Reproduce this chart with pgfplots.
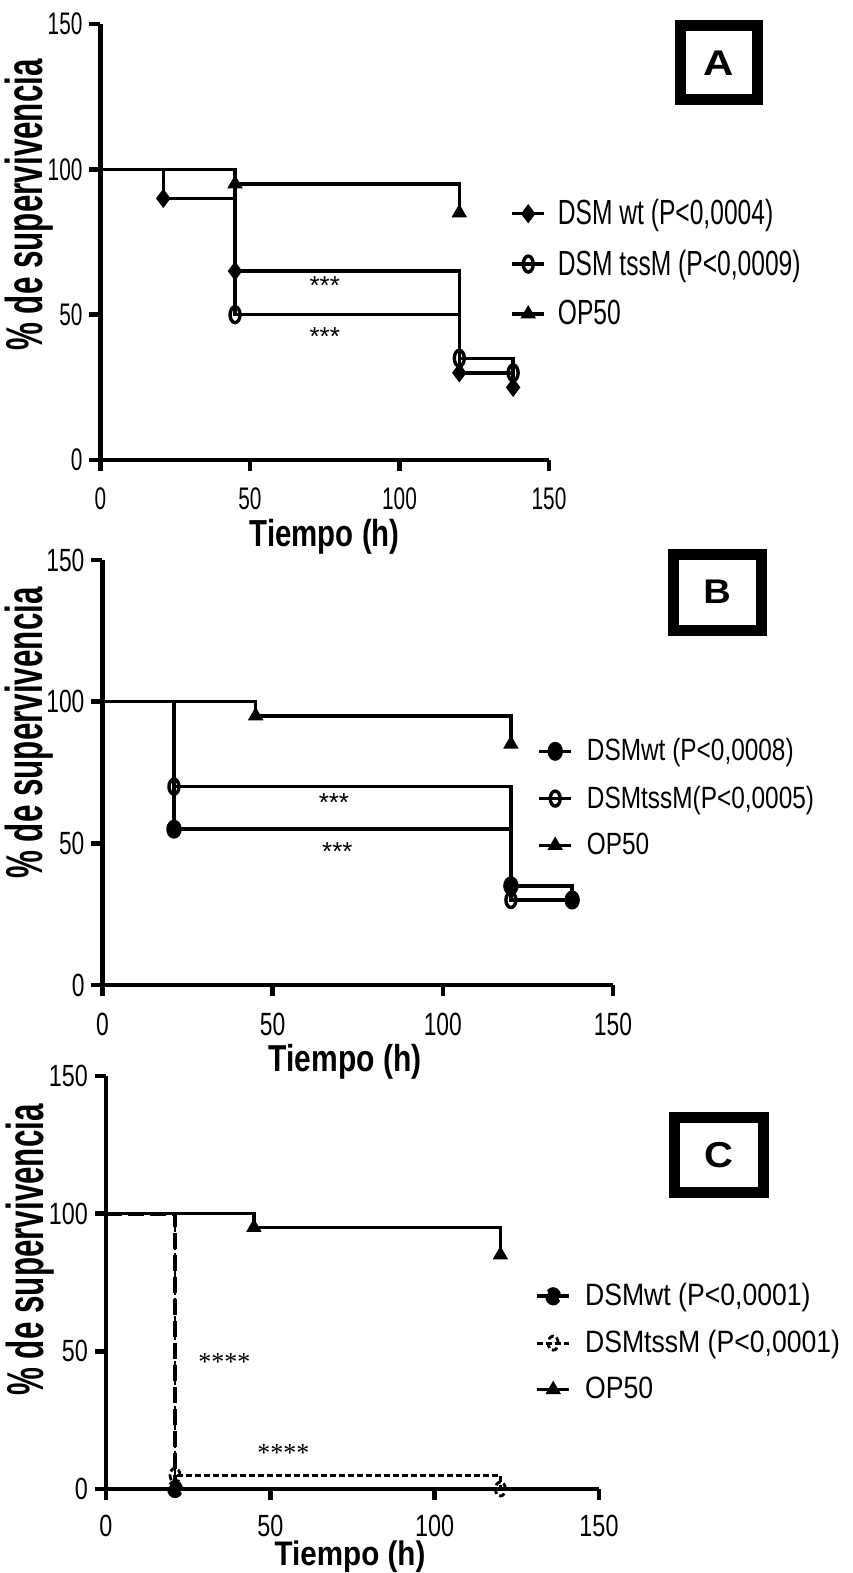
\documentclass[border=0pt]{standalone}
\usepackage{fontspec}
\setmainfont{Liberation Sans}
\newfontfamily\seriffont{Liberation Serif}
\usepackage{graphicx}
\usepackage{pgfplots}
\pgfplotsset{compat=1.18}

\newcommand{\sy}[2]{\scalebox{1}[#1]{#2}}

\pgfplotsset{
  km/.style={
    scale only axis, clip=false,
    axis x line=bottom, axis y line=left,
    axis line style={line width=2.3pt,-},
    tick style={line width=2.2pt, black},
    major tick length=5.5pt,
    tick align=outside,
    xmin=0,xmax=150,ymin=0,ymax=150,
    xtick={0,50,100,150}, ytick={0,50,100,150},
    xticklabel style={yshift=-5pt},
    legend cell align=left,
    legend image code/.code={\draw[mark repeat=2,mark phase=2,##1,mark indices={2}]
        plot coordinates {(0pt,0pt)(8pt,0pt)(16pt,0pt)};},
  },
  kmline/.style={black, line width=1.7pt, const plot, mark options={solid, fill=black, line width=1pt}},
}

\begin{document}
\begin{tikzpicture}
\useasboundingbox (0pt,0pt) rectangle (426pt,-786.5pt);

% ---------------- Panel A ----------------
\begin{axis}[km,
  at={(50.25pt,-230pt)}, anchor=south west,
  width=224.25pt, height=218pt,
  ticklabel style={font=\fontsize{10.4}{12}\selectfont},
  xticklabels={{\sy{1.5}{0}},{\sy{1.5}{50}},{\sy{1.5}{100}},{\sy{1.5}{150}}},
  yticklabels={{\sy{1.5}{0}},{\sy{1.5}{50}},{\sy{1.5}{100}},{\sy{1.5}{150}}},
  xlabel={\sy{1.28}{\fontsize{14.7}{17}\selectfont\bfseries Tiempo (h)}},
  xlabel style={at={(axis description cs:0.5,-0.198)}, anchor=base},
  ylabel={\sy{1.65}{\fontsize{15.7}{18}\selectfont\bfseries \% de supervivencia}},
  ylabel style={at={(axis description cs:-0.129,0.585)}, anchor=base},
  legend style={at={(axis cs:137,91.1)}, anchor=north west, draw=none, fill=none,
    inner sep=0pt, row sep=7pt, font=\fontsize{12.3}{14}\selectfont},
]
\addplot[kmline, mark=diamond*, mark size=4pt, mark indices={2,3,4,5}]
  coordinates {(0,100)(21,90)(45,65)(120,30)(138,25)};
\addlegendentry{\hspace{4pt}\sy{1.42}{DSM wt (P<0,0004)}}
\addplot[kmline, mark=o, mark size=2.5pt, mark options={yscale=1.6}, mark indices={2,3,4}]
  coordinates {(0,100)(45,50)(120,35)(138,30)};
\addlegendentry{\hspace{4pt}\sy{1.42}{DSM tssM (P<0,0009)}}
\addplot[kmline, mark=triangle*, mark size=3.5pt, mark indices={2,3}]
  coordinates {(0,100)(45,95)(120,85)};
\addlegendentry{\hspace{4pt}\sy{1.42}{OP50}}
\node[font=\fontsize{13}{14}\selectfont] at (axis cs:75,60) {***};
\node[font=\fontsize{13}{14}\selectfont] at (axis cs:75,42.5) {***};
\end{axis}

% ---------------- Panel B ----------------
\begin{axis}[km,
  at={(51.25pt,-492.5pt)}, anchor=south west,
  width=255.25pt, height=212.5pt,
  ticklabel style={font=\fontsize{11.4}{13}\selectfont},
  xticklabels={{\sy{1.41}{0}},{\sy{1.41}{50}},{\sy{1.41}{100}},{\sy{1.41}{150}}},
  yticklabels={{\sy{1.41}{0}},{\sy{1.41}{50}},{\sy{1.41}{100}},{\sy{1.41}{150}}},
  xlabel={\sy{1.25}{\fontsize{15}{17}\selectfont\bfseries Tiempo (h)}},
  xlabel style={at={(axis description cs:0.475,-0.2035)}, anchor=base},
  ylabel={\sy{1.65}{\fontsize{15.7}{18}\selectfont\bfseries \% de supervivencia}},
  ylabel style={at={(axis description cs:-0.1185,0.593)}, anchor=base},
  legend style={at={(axis cs:127.7,88.5)}, anchor=north west, draw=none, fill=none,
    inner sep=0pt, row sep=7pt, font=\fontsize{12.2}{14}\selectfont},
]
\addplot[kmline, mark=*, mark size=3pt, mark options={yscale=1.3}, mark indices={2,3,4}]
  coordinates {(0,100)(21,55)(120,35)(138,30)};
\addlegendentry{\hspace{5pt}\sy{1.26}{DSMwt (P<0,0008)}}
\addplot[kmline, mark=o, mark size=2.5pt, mark options={yscale=1.5}, mark indices={2,3}]
  coordinates {(0,100)(21,70)(120,30)(138,30)};
\addlegendentry{\hspace{5pt}\sy{1.26}{DSMtssM(P<0,0005)}}
\addplot[kmline, mark=triangle*, mark size=3.5pt, mark indices={2,3}]
  coordinates {(0,100)(45,95)(120,85)};
\addlegendentry{\hspace{5pt}\sy{1.26}{OP50}}
\node[font=\fontsize{13}{14}\selectfont] at (axis cs:68,64.5) {***};
\node[font=\fontsize{13}{14}\selectfont] at (axis cs:69,47) {***};
\end{axis}

% ---------------- Panel C ----------------
\begin{axis}[km,
  at={(53pt,-744.5pt)}, anchor=south west,
  width=246.5pt, height=206.5pt,
  ticklabel style={font=\fontsize{11.7}{13}\selectfont},
  xticklabel style={yshift=1pt},
  xticklabels={{\sy{1.31}{0}},{\sy{1.31}{50}},{\sy{1.31}{100}},{\sy{1.31}{150}}},
  yticklabels={{\sy{1.31}{0}},{\sy{1.31}{50}},{\sy{1.31}{100}},{\sy{1.31}{150}}},
  xlabel={\sy{1.15}{\fontsize{14.8}{17}\selectfont\bfseries Tiempo (h)}},
  xlabel style={at={(axis description cs:0.495,-0.185)}, anchor=base},
  ylabel={\sy{1.65}{\fontsize{15.7}{18}\selectfont\bfseries \% de supervivencia}},
  ylabel style={at={(axis description cs:-0.1258,0.579)}, anchor=base},
  legend style={at={(axis cs:130.5,76.2)}, anchor=north west, draw=none, fill=none,
    inner sep=0pt, row sep=6.75pt, font=\fontsize{13.3}{15}\selectfont},
]
\addplot[kmline, line width=1.9pt, dash pattern=on 8pt off 3pt, mark=*, mark size=3pt, mark options={yscale=1.2}, mark indices={2}]
  coordinates {(0,100)(21,0)};
\addlegendentry{\hspace{5pt}\sy{1.16}{DSMwt (P<0,0001)}}
\addplot[kmline, line width=1.4pt, dash pattern=on 3pt off 1.5pt, mark=o, mark size=2.5pt, mark options={yscale=1.4}, mark indices={2,3}]
  coordinates {(0,100)(21,5)(120,0)};
\addlegendentry{\hspace{5pt}\sy{1.16}{DSMtssM (P<0,0001)}}
\addplot[kmline, mark=triangle*, mark size=3.5pt, mark indices={2,3}]
  coordinates {(0,100)(45,95)(120,85)};
\addlegendentry{\hspace{5pt}\sy{1.16}{OP50}}
\node[font=\seriffont\fontsize{13}{14}\selectfont] at (axis cs:36,46) {****};
\node[font=\seriffont\fontsize{13}{14}\selectfont] at (axis cs:54,13) {****};
\end{axis}

% ---------------- Panel letters ----------------
\node[draw, line width=5.5pt, minimum width=38.5pt, minimum height=37pt, inner sep=0pt,
  font=\fontsize{21}{24}\selectfont\bfseries] at (359.5pt,-31.5pt) {\sy{0.85}{A}};
\node[draw, line width=5.5pt, minimum width=44pt, minimum height=38pt, inner sep=0pt,
  font=\fontsize{19}{22}\selectfont\bfseries] at (358.5pt,-296pt) {\sy{0.9}{B}};
\node[draw, line width=5.5pt, minimum width=44.5pt, minimum height=37.5pt, inner sep=0pt,
  font=\fontsize{20}{22}\selectfont\bfseries] at (359.5pt,-577.5pt) {\sy{0.9}{C}};
\end{tikzpicture}
\end{document}
